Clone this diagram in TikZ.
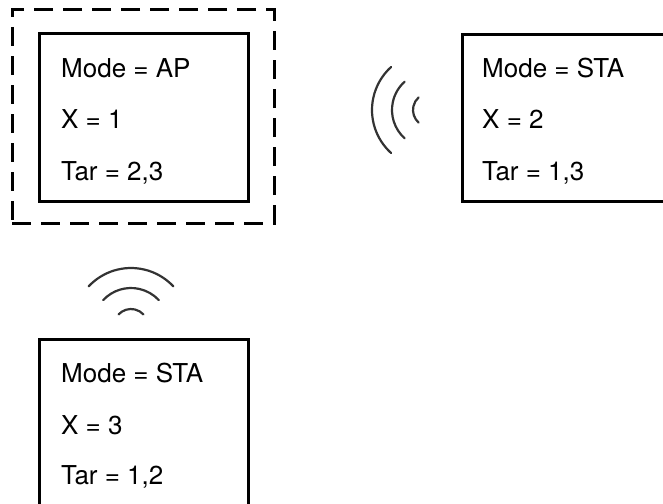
\documentclass[tikz,border=0pt]{standalone}
\usepackage{fontspec}
\setmainfont{TeX Gyre Heros}
\begin{document}
\begin{tikzpicture}[x=1pt,y=-1pt,
   box/.style={draw,line width=3pt,rectangle,minimum width=209pt,minimum height=167pt,inner sep=0pt},
   ring/.style={draw,dashed,line width=3pt,dash pattern=on 19pt off 10pt,rectangle,minimum width=262pt,minimum height=213pt,inner sep=0pt},
   txt/.style={anchor=base west,inner sep=0pt,font=\fontsize{26}{30}\selectfont},
   wave/.style={line width=2.2pt,color=black!80,line cap=round}]
   \useasboundingbox (0,0) rectangle (663,503);
   \clip (0,0) rectangle (663,503);

   \node[ring] (cell) at (143,116.5) {};
   \node[box] (ap) at (143.5,117.5) {};
   \node[box] (staB) at (566.5,118) {};
   \node[box] (staC) at (144,422.5) {};

   \node[txt] (apMode) at (61,77) {Mode = AP};
   \node[txt] (apX) at (61,128) {X = 1};
   \node[txt] (apTar) at (61,180) {Tar = 2,3};

   \node[txt] (staBMode) at (482,77) {Mode = STA};
   \node[txt] (staBX) at (482,128) {X = 2};
   \node[txt] (staBTar) at (482,180) {Tar = 1,3};

   \node[txt] (staCMode) at (61,382) {Mode = STA};
   \node[txt] (staCX) at (61,434) {X = 3};
   \node[txt] (staCTar) at (61,484) {Tar = 1,2};

   \coordinate (sigB) at (430,110);
   \coordinate (sigC) at (131,326);
   \foreach \r in {58,38,17}{
      \draw[wave] (sigB) ++(132:\r) arc[start angle=132,end angle=228,radius=\r];
      \draw[wave] (sigC) ++(223:\r) arc[start angle=223,end angle=317,radius=\r];
   }
\end{tikzpicture}
\end{document}
